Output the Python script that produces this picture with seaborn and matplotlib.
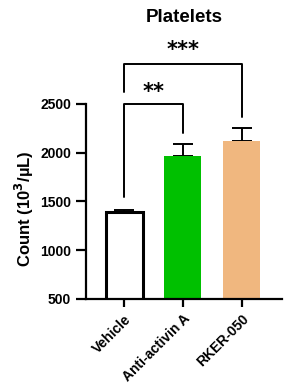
import matplotlib
matplotlib.use("Agg")
import matplotlib.pyplot as plt
import numpy as np
import pandas as pd
import seaborn as sns

# values
groups = ["Vehicle", "Anti-activin A", "RKER-050"]
means = [1390, 1970, 2115]
sem = [25, 120, 135]
bar_colors = ["white", "#00C000", "#F0B77F"]

sns.set_style("ticks")
plt.rcParams['font.family'] = ['Liberation Sans', 'DejaVu Sans']
plt.rcParams['font.weight'] = 'bold'
plt.rcParams.update({"text.color": "black", "axes.labelcolor": "black",
                     "xtick.color": "black", "ytick.color": "black",
                     "axes.edgecolor": "black"})

df = pd.DataFrame({"group": groups, "count": means})

fig = plt.figure(figsize=(2.97, 3.88), dpi=100)
ax = fig.add_axes([0.289, 0.230, 0.661, 0.502])

sns.barplot(data=df, x="group", y="count", hue="group", palette=bar_colors,
            saturation=1, width=0.63, legend=False, ax=ax, zorder=2)
for i, p in enumerate(ax.patches):
    if i == 0:
        p.set_edgecolor("black")
        p.set_linewidth(2.2)
    else:
        p.set_edgecolor("none")

ax.errorbar(np.arange(len(groups)), means, yerr=[np.zeros(len(sem)), sem],
            fmt="none", ecolor="black", elinewidth=1.4, capsize=7, capthick=1.4,
            zorder=1)

ax.set_ylim(500, 2500)
ax.set_yticks([500, 1000, 1500, 2000, 2500])
ax.set_xlim(-0.65, 2.69)
sns.despine(ax=ax)
for s in ["left", "bottom"]:
    ax.spines[s].set_linewidth(1.6)
ax.tick_params(axis="both", width=1.6, length=6, labelsize=10)
ax.tick_params(axis="y", length=7)
ax.set_xlabel("")
ax.set_ylabel("Count (10$^3$/\u00b5L)", fontsize=12, fontweight="bold")
ax.yaxis.set_label_coords(-0.255, 0.46)
plt.setp(ax.get_xticklabels(), rotation=45, ha="right", rotation_mode="anchor",
         fontweight="bold")
plt.setp(ax.get_yticklabels(), fontweight="bold")

# significance brackets
lw = 1.4
ax.plot([0, 0, 1, 1], [1540, 2500, 2500, 2205], color="black", lw=lw, clip_on=False)
ax.text(0.5, 2620, "**", ha="center", va="center", fontsize=15, fontweight="bold",
        family="DejaVu Sans")
ax.plot([0, 0, 2, 2], [2620, 2915, 2915, 2365], color="black", lw=lw, clip_on=False)
ax.text(1.0, 3050, "***", ha="center", va="center", fontsize=15, fontweight="bold",
        family="DejaVu Sans")

ax.set_title("Platelets", fontsize=13.5, fontweight="bold", pad=59)

fig.savefig("out.png", dpi=100)
